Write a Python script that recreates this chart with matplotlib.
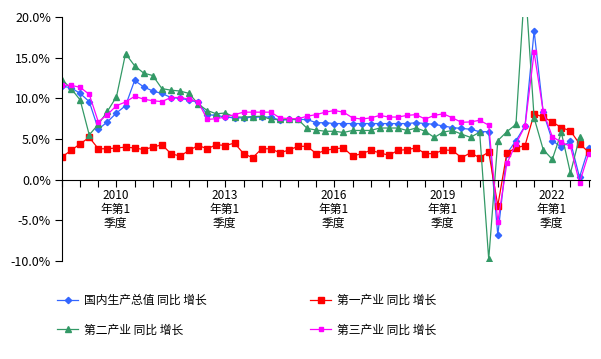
import matplotlib
matplotlib.use("Agg")
import matplotlib.pyplot as plt
import matplotlib.transforms as mtransforms
from matplotlib.ticker import FuncFormatter, FixedLocator
import numpy as np

plt.rcParams['font.family'] = ['Noto Sans CJK SC', 'DejaVu Sans']

# quarterly YoY growth, 2008Q1 .. 2022Q3
gdp = [11.5, 11.3, 10.6, 9.6, 6.2, 7.1, 8.2, 9.1,
       12.2, 11.4, 10.9, 10.6, 10.1, 10.0, 9.8, 9.5,
       8.0, 7.9, 7.7, 7.6, 7.6, 7.7, 7.7, 7.7,
       7.3, 7.4, 7.4, 7.4, 7.0, 7.0, 6.9, 6.9,
       6.9, 6.9, 6.9, 6.9, 6.9, 6.9, 6.9, 7.0,
       6.9, 6.8, 6.6, 6.4, 6.3, 6.2, 5.9, 5.9,
       -6.8, 3.2, 4.8, 6.6, 18.3, 8.3, 4.8, 4.0, 4.7, 0.3, 3.9]
primary = [2.8, 3.6, 4.4, 5.2, 3.8, 3.8, 3.9, 4.0,
           3.9, 3.7, 4.0, 4.3, 3.2, 2.9, 3.6, 4.2,
           3.8, 4.3, 4.2, 4.5, 3.2, 2.7, 3.8, 3.8,
           3.3, 3.65, 4.1, 4.1, 3.2, 3.6, 3.8, 3.9,
           2.9, 3.2, 3.6, 3.3, 3.0, 3.6, 3.7, 3.9,
           3.2, 3.2, 3.65, 3.6, 2.7, 3.3, 2.7, 3.4,
           -3.2, 3.3, 3.9, 4.2, 8.1, 7.7, 7.1, 6.4, 6.0, 4.4, 3.4]
# secondary series sits one quarter earlier in the source chart
secondary = [12.3, 11.2, 9.8, 5.5, 6.8, 8.4, 10.2, 15.5,
             14.0, 13.1, 12.8, 11.2, 11.0, 10.9, 10.6, 9.3,
             8.5, 8.1, 8.2, 7.7, 7.7, 7.75, 7.8, 7.4,
             7.4, 7.4, 7.4, 6.3, 6.1, 5.95, 5.95, 5.8,
             6.05, 6.05, 6.05, 6.35, 6.35, 6.35, 6.05, 6.35,
             5.95, 5.2, 5.85, 6.05, 5.6, 5.2, 5.85, -9.8,
             4.8, 5.9, 6.8, 24.4, 7.6, 3.7, 2.5, 5.8, 0.8, 5.2]
tertiary = [11.6, 11.6, 11.35, 10.5, 7.1, 8.0, 9.1, 9.55,
            10.25, 9.9, 9.7, 9.6, 10.1, 10.1, 9.9, 9.55,
            7.4, 7.5, 7.7, 8.0, 8.3, 8.3, 8.3, 8.3,
            7.6, 7.5, 7.5, 7.8, 8.0, 8.3, 8.5, 8.3,
            7.6, 7.45, 7.6, 7.9, 7.7, 7.7, 7.9, 8.0,
            7.45, 7.9, 8.1, 7.6, 7.05, 7.1, 7.3, 6.7,
            -5.2, 2.0, 4.4, 6.6, 15.65, 8.4, 5.3, 4.6, 4.1, -0.4, 3.2]

x_labels = ["2010\n年第1\n季度", "2013\n年第1\n季度", "2016\n年第1\n季度",
            "2019\n年第1\n季度", "2022\n年第1\n季度"]
label_idx = [6, 18, 30, 42, 54]

names = ["国内生产总值 同比 增长", "第一产业 同比 增长", "第二产业 同比 增长", "第三产业 同比 增长"]

fig = plt.figure(figsize=(6.01, 3.59), dpi=100)
ax = fig.add_axes([62/601, 1-261/359, (589.5-62)/601, (261-17)/359])

x = np.arange(len(gdp))
l1, = ax.plot(x, gdp, color='#3366FF', lw=0.9, marker='D', ms=3.2, mec='#3366FF')
l2, = ax.plot(x, primary, color='#FF0000', lw=0.9, marker='s', ms=5, mec='#FF0000')
l3, = ax.plot(np.arange(len(secondary)), secondary, color='#339966', lw=0.9, marker='^', ms=4.5)
l4, = ax.plot(x, tertiary, color='#FF00FF', lw=0.9, marker='s', ms=2.8)

ax.set_xlim(0, 58.1)
ax.set_ylim(-10, 20)
ax.set_yticks(np.arange(-10, 21, 5))
ax.yaxis.set_major_formatter(FuncFormatter(lambda v, p: f"{v:.1f}%"))
ax.tick_params(axis='y', direction='out', length=5, width=0.8, labelsize=9, pad=3)

ax.spines['top'].set_visible(False)
ax.spines['right'].set_visible(False)
ax.spines['bottom'].set_position(('data', 0))
ax.spines['left'].set_linewidth(0.8)
ax.spines['bottom'].set_linewidth(0.8)

ax.xaxis.set_major_locator(FixedLocator(list(range(0, 59, 2))))
ax.set_xticklabels([])
ax.tick_params(axis='x', which='major', direction='out', length=5, width=0.8)

# category labels under the zero line
trans = mtransforms.offset_copy(ax.transData, fig=fig, y=-9, units='dots')
for i, lab in zip(label_idx, x_labels):
    ax.text(i - 0.1, 0, lab, transform=trans, ha='center', va='top', fontsize=8.5,
            linespacing=1.1, multialignment='center')

fig.legend([l1, l3, l2, l4], [names[0], names[2], names[1], names[3]],
           loc='upper left', bbox_to_anchor=(57/601, 1-294/359),
           ncol=2, frameon=False, fontsize=8.5, handlelength=1.8, handletextpad=0.45,
           columnspacing=8.8, labelspacing=1.4, borderpad=0, borderaxespad=0)

fig.savefig("out.png", dpi=100)
